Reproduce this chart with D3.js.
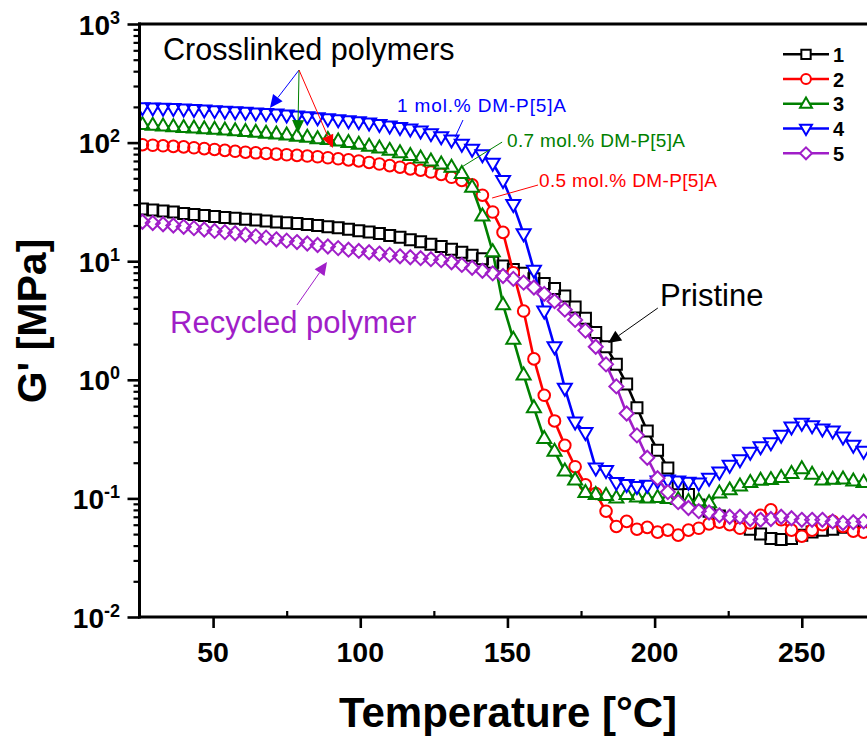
<!DOCTYPE html>
<html><head><meta charset="utf-8">
<script src="https://cdn.jsdelivr.net/npm/d3@7"></script>
<style>body{margin:0;background:#fff}svg{display:block}text{font-family:Arial,'Liberation Sans',sans-serif}</style>
</head><body><svg id="c" width="867" height="736"></svg>
<script>
// ---------------- data ----------------
const temps = [26,29.5,33,36.5,40,43.5,47,50.5,54,57.5,
  61,64.5,68,71.5,75,78.5,82,85.5,89,92.5,
  96,99.5,103,106.5,110,113.5,117,120.5,124,127.5,
  131,134.5,138,141.5,145,148.5,152,155.5,159,162.5,
  166,169.5,173,176.5,180,183.5,187,190.5,194,197.5,
  201,204.5,208,211.5,215,218.5,222,225.5,229,232.5,
  236,239.5,243,246.5,250,253.5,257,260.5,264,267.5,271];
// 1: pristine
const s1 = [27.5,27,26.5,26,25.3,24.8,24.3,23.8,23.4,23,
  22.6,22.2,21.8,21.4,21.1,20.8,20.4,20,19.5,19.1,
  18.6,18.1,17.6,17.1,16.5,15.9,15.2,14.6,13.9,13.3,
  12.6,11.9,11.2,10.5,9.8,9.1,8.5,7.9,7.1,6.5,
  5.9,5.1,4.1,3.3,2.5,1.9,1.35,0.92,0.58,0.37,
  0.255,0.18,0.133,0.108,0.088,0.078,0.071,0.065,0.06,0.055,
  0.05,0.046,0.045,0.046,0.049,0.052,0.054,0.055,0.057,0.059,0.06];
// 2: 0.5 mol.% DM-P[5]A
const s2 = [96,95,94,93,92,90.5,89,87.5,86,84.5,
  83,82,81,80,79,78,77,76,74.5,73,
  71.5,70,68,66,64,62,60,58.5,56.5,54,
  51,48,44,36,26,17.5,8,3.8,1.5,0.74,
  0.45,0.28,0.185,0.13,0.11,0.078,0.058,0.064,0.055,0.057,
  0.052,0.054,0.049,0.054,0.056,0.061,0.063,0.06,0.056,0.062,
  0.072,0.08,0.066,0.054,0.048,0.054,0.06,0.064,0.058,0.053,0.052];
// 3: 0.7 mol.% DM-P[5]A
const s3 = [142,140,138,136,134,132.5,131,129.5,128,126,
  124,122,120,118,116,113,111,108,106,103,
  100,97,93,90,86,82,78,74,70,66,
  62,55,42,24,12,4.3,2.2,1.1,0.58,0.32,
  0.25,0.17,0.143,0.112,0.108,0.106,0.101,0.108,0.103,0.101,
  0.102,0.1,0.098,0.094,0.095,0.092,0.111,0.118,0.127,0.136,
  0.142,0.144,0.15,0.162,0.178,0.16,0.143,0.145,0.146,0.14,0.136];
// 4: 1 mol.% DM-P[5]A
const s4 = [197,196,195,194,192,190,188,186,184,182,
  180,178,176,174,171,168,165,162,159,156,
  153,150,146,142,138,134,130,125,119,112,
  105,97,88,79,67,48,30,17,8.4,3.8,
  1.9,0.85,0.44,0.36,0.18,0.172,0.136,0.131,0.126,0.129,
  0.14,0.143,0.14,0.137,0.135,0.148,0.167,0.19,0.212,0.245,
  0.272,0.295,0.34,0.4,0.43,0.41,0.385,0.37,0.33,0.28,0.25];
// 5: recycled
const s5 = [21.5,21,20.5,20,19.5,19,18.5,18,17.6,17.2,
  16.7,16.2,15.8,15.3,14.9,14.5,14.1,13.7,13.3,12.9,
  12.5,12.2,11.9,11.6,11.3,11,10.8,10.6,10.4,10.2,
  9.8,9.3,8.8,8.3,7.9,7.5,7.1,6.6,6,5.3,
  4.6,3.9,3.2,2.6,1.9,1.35,0.88,0.52,0.34,0.22,
  0.148,0.113,0.093,0.083,0.078,0.076,0.072,0.07,0.07,0.067,
  0.066,0.067,0.07,0.068,0.066,0.066,0.066,0.064,0.062,0.063,0.064];
const seriesNames = ["1","2","3","4","5"];
const xTicks = [50,100,150,200,250];
const xMinorTicks = [75,125,175,225];
const yTickExps = [-2,-1,0,1,2,3];

// ---------------- styles ----------------
const colors = ["#000000","#ff0000","#008000","#0000ff","#a01ec8"];
const shapes = ["square","circle","triUp","triDown","diamond"];

const svg = d3.select("#c");
const x = d3.scaleLinear().domain([25,280]).range([139.5,139.5+255*2.9435]);
const y = d3.scaleLog().domain([0.01,1000]).range([617,24]);

function shapeD(s,k){
  k = k||1;
  switch(s){
    case "square": { const r=5.5*k; return `M${-r},${-r}h${2*r}v${2*r}h${-2*r}Z`; }
    case "circle": { const r=5.8*k; return `M${r},0A${r},${r} 0 1 1 ${-r},0A${r},${r} 0 1 1 ${r},0Z`; }
    case "triUp": return `M0,${-7.5*k}L${7*k},${4.5*k}L${-7*k},${4.5*k}Z`;
    case "triDown": return `M0,${7.5*k}L${7*k},${-4.5*k}L${-7*k},${-4.5*k}Z`;
    case "diamond": return `M0,${-7*k}L${7*k},0L0,${7*k}L${-7*k},0Z`;
  }
}

svg.append("defs").append("clipPath").attr("id","plotclip")
  .append("rect").attr("x",139.5).attr("y",0).attr("width",900).attr("height",617);

const series = [s1,s2,s3,s4,s5].map((vals,i)=>({
  name:seriesNames[i], color:colors[i], shape:shapes[i],
  pts: temps.map((t,j)=>({t, v:vals[j]}))
}));

const plot = svg.append("g").attr("clip-path","url(#plotclip)");
const line = d3.line().x(d=>x(d.t)).y(d=>y(d.v));
series.forEach(s=>{
  const g = plot.append("g");
  g.append("path").datum(s.pts).attr("d",line).attr("fill","none")
    .attr("stroke",s.color).attr("stroke-width",2.6);
  g.selectAll("path.ko").data(s.pts).join("path").attr("class","ko")
    .attr("d",shapeD(s.shape)).attr("transform",d=>`translate(${x(d.t)},${y(d.v)})`)
    .attr("fill","#fff").attr("stroke","none");
  g.selectAll("path.mk").data(s.pts).join("path").attr("class","mk")
    .attr("d",shapeD(s.shape)).attr("transform",d=>`translate(${x(d.t)},${y(d.v)})`)
    .attr("fill","none").attr("stroke",s.color).attr("stroke-width",2);
});

// ---------------- axes ----------------
const xMaj = svg.append("g").attr("transform","translate(0,617)")
  .call(d3.axisBottom(x).tickValues(xTicks).tickSize(11).tickFormat(""));
const xMin = svg.append("g").attr("transform","translate(0,617)")
  .call(d3.axisBottom(x).tickValues(xMinorTicks).tickSize(-6).tickFormat(""));
const yMajorVals = yTickExps.map(e=>Math.pow(10,e));
const yMinorVals = [];
yTickExps.slice(0,-1).forEach(e=>{ for(let m=2;m<=9;m++) yMinorVals.push(m*Math.pow(10,e)); });
const yMaj = svg.append("g").attr("transform","translate(139.5,0)")
  .call(d3.axisLeft(y).tickValues(yMajorVals).tickSize(12).tickFormat(""));
const yMin = svg.append("g").attr("transform","translate(139.5,0)")
  .call(d3.axisLeft(y).tickValues(yMinorVals).tickSize(6).tickFormat(""));
[xMaj,xMin,yMaj,yMin].forEach(g=>{ g.select(".domain").remove(); });
[xMaj,yMaj].forEach(g=>g.selectAll(".tick line").attr("stroke","#000").attr("stroke-width",2.6));
[xMin,yMin].forEach(g=>g.selectAll(".tick line").attr("stroke","#000").attr("stroke-width",2.2));

// frame
const fr = svg.append("g").attr("stroke","#000").attr("stroke-width",3).attr("fill","none");
fr.append("line").attr("x1",139.5).attr("x2",139.5).attr("y1",22.5).attr("y2",618.5);
fr.append("line").attr("x1",138).attr("x2",867).attr("y1",617).attr("y2",617);
fr.append("line").attr("x1",138).attr("x2",867).attr("y1",24).attr("y2",24);

// tick labels
svg.append("g").selectAll("text").data(xTicks).join("text")
  .attr("x",d=>x(d)).attr("y",662).attr("text-anchor","middle")
  .attr("font-size",28.5).attr("font-weight","bold").text(d=>d);
const yl = svg.append("g").selectAll("text").data(yTickExps).join("text")
  .attr("x",120).attr("y",d=>y(Math.pow(10,d))+10.5).attr("text-anchor","end")
  .attr("font-size",28).attr("font-weight","bold");
yl.append("tspan").text("10");
yl.append("tspan").attr("dy",-11).attr("font-size",18).text(d=>d);

// axis titles
svg.append("text").attr("x",508).attr("y",727).attr("text-anchor","middle")
  .attr("font-size",42).attr("font-weight","bold").text("Temperature [°C]");
svg.append("text").attr("transform","translate(46,321) rotate(-90)").attr("text-anchor","middle")
  .attr("font-size",41).attr("font-weight","bold").text("G' [MPa]");

// ---------------- legend ----------------
const lg = svg.append("g");
series.forEach((s,i)=>{
  const cy = 54.3 + i*24.75;
  lg.append("line").attr("x1",783).attr("x2",829).attr("y1",cy).attr("y2",cy)
    .attr("stroke",s.color).attr("stroke-width",2.6);
  lg.append("path").attr("d",shapeD(s.shape,0.85)).attr("transform",`translate(806,${cy})`)
    .attr("fill","#fff").attr("stroke",s.color).attr("stroke-width",2);
  lg.append("text").attr("x",833).attr("y",cy+7.5).attr("font-size",20).attr("font-weight","bold").text(s.name);
});

// ---------------- annotations ----------------
function arrow(p0,p1,color,head){
  const x0=x(p0[0]),y0=y(p0[1]),x1=x(p1[0]),y1=y(p1[1]);
  const g = svg.append("g");
  if(!head){
    g.append("line").attr("x1",x0).attr("y1",y0).attr("x2",x1).attr("y2",y1)
      .attr("stroke",color).attr("stroke-width",1);
    return;
  }
  const dx=x1-x0, dy=y1-y0, L=Math.hypot(dx,dy), ux=dx/L, uy=dy/L;
  const hl=13, hw=6;
  const bx=x1-ux*hl, by=y1-uy*hl;
  g.append("line").attr("x1",x0).attr("y1",y0).attr("x2",bx).attr("y2",by)
    .attr("stroke",color).attr("stroke-width",1);
  g.append("path").attr("d",`M${x1},${y1}L${bx-uy*hw},${by+ux*hw}L${bx+uy*hw},${by-ux*hw}Z`)
    .attr("fill",color);
}
const crossOrigin = [79.2,409];
arrow(crossOrigin,[69.3,196],colors[3],true);
arrow(crossOrigin,[78.8,120],colors[2],true);
arrow(crossOrigin,[90.7,90],colors[1],true);
arrow([134.9,155],[132.2,111],colors[3],false);
arrow([148.2,101],[133.9,61],colors[2],false);
arrow([160.4,43.9],[144.8,34.1],colors[1],false);
arrow([201.1,4.03],[184.2,2.04],colors[0],true);
arrow([78.5,4.27],[88.7,9.85],colors[4],true);

function label(txt,px,py,size,color,len){
  const t = svg.append("text").attr("x",px).attr("y",py).attr("font-size",size)
    .attr("fill",color).text(txt);
  if(len) t.attr("textLength",len).attr("lengthAdjust","spacing");
}
label("Crosslinked polymers",163,60,30.5,"#000");
label("1 mol.% DM-P[5]A",397,112,19,colors[3],169);
label("0.7 mol.% DM-P[5]A",507,147,19,colors[2],178);
label("0.5 mol.% DM-P[5]A",539,187,19,colors[1],178);
label("Pristine",660,306,31,"#000");
label("Recycled polymer",170,333,31,colors[4]);
</script></body></html>
